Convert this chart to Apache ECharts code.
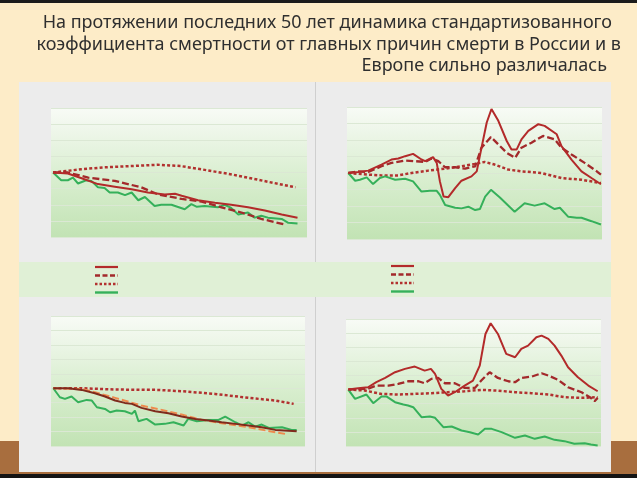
<!DOCTYPE html>
<html><head><meta charset="utf-8">
<script src="https://cdn.jsdelivr.net/npm/echarts@6/dist/echarts.min.js"></script>
<style>html,body{margin:0;padding:0;background:#fdecc8}#c{width:637px;height:478px}</style>
</head><body><div id="c"></div><script>
// ---- data (index, first year = 100) ----
const titleLines = [
  'На протяжении последних 50 лет динамика стандартизованного',
  'коэффициента смертности от главных причин смерти в России и в',
  'Европе сильно различалась'
];

// top-left
const tlSolidYears = [1965,1967.9,1970.6,1973.8,1977.1,1980.4,1983.6,1986.9,1988.9,1990.2,1993.4,1996.7,1999.9,2003.2,2006.5,2009.8,2012.9];
const tlSolidVals  = [100,98.4,91,82,78,74,69,66,67,64,57,53,50,46,41,35,30];
const tlDashYears  = [1965,1967.9,1971.9,1977.1,1982.3,1985.6,1990.2,1994.1,1998,2001.9,2005.8,2010.6];
const tlDashVals   = [100,100,92,87,77,66,59,55,46,38,28,19];
const tlDotYears   = [1965,1970.5,1975,1980.5,1985.5,1990,1994,2000,2005,2012.5];
const tlDotVals    = [100,105,108,110,112,110,105,97,89,77];
const tlGreenYears = [1965,1966.6,1967.9,1968.9,1969.9,1971.5,1972.5,1973.8,1975.1,1976.1,1977.7,1979.1,1980.4,1981.7,1983,1984.9,1986.2,1988.2,1990.8,1992.1,1993.1,1994.7,1997.3,1998.6,1999.9,2001.3,2003.2,2004.5,2005.8,2007.1,2009.8,2011.1,2012.9];
const tlGreenVals  = [100,88,88,92,83,88,87,77,76,69,69,65,69,57,62,48,50,50,43,51,47,48,46,50,45,35,38,30,33,30,28,22,21];

// top-right
const trSolidYears = [1965,1966.9,1968.8,1971.3,1973.2,1974.5,1975.8,1977.3,1978.9,1979.6,1981.1,1981.8,1982.4,1983.1,1984,1985.3,1986.5,1988.4,1989.4,1990.3,1991.3,1992.2,1993.5,1995.1,1996,1997,1997.9,1999.2,2001.1,2002.3,2004.6,2005.5,2007.4,2009.3,2011.2,2013];
const trSolidVals  = [100,101.5,103.6,112.8,120.4,121.9,125.5,129,120.4,117.9,124,115.3,87.3,64.3,63.3,77,88.3,94.9,102.5,138,176.5,197,179,148.5,135.7,135.7,151,163.8,174,171.4,158.7,140.8,120.4,102.5,92.4,83];
const trDashYears  = [1965,1966.9,1968.8,1971.3,1973.2,1975.8,1977.7,1979.6,1980.8,1982.1,1983.4,1985.3,1987.2,1989.1,1990.3,1992.1,1993.5,1995.1,1996.7,1997.9,1999.8,2002,2004.2,2005.5,2007.4,2009.9,2012.2,2013];
const trDashVals   = [100,102.6,101.5,110.2,115.3,118.9,117.9,116.8,121.9,117.9,108.7,108.7,106.6,110.2,138.3,154.6,143.4,130.6,122.9,138.3,145.9,156.1,151,138.3,128.1,115.3,102.6,97.5];
const trDotYears   = [1965,1968.8,1971.3,1974.5,1977,1980.2,1983.4,1986.5,1989.1,1990.9,1992.8,1995.4,1997.9,2001.7,2005.5,2009.3,2013];
const trDotVals    = [100,97.5,96.4,96.4,100,103.6,106.6,110.2,113.8,116.8,112.8,105.1,102.6,100,92.4,89.8,84.7];
const trGreenYears = [1965,1966.3,1967.2,1968.5,1969.7,1971,1972,1973.9,1975.8,1977.3,1978.9,1980.5,1981.8,1982.4,1983.4,1985.3,1986.5,1987.8,1989.1,1990,1991,1992.1,1993.8,1996.6,1998.5,2000.4,2002.3,2004.2,2005.2,2006.8,2008.4,2009.3,2011.2,2013];
const trGreenVals  = [100,88.3,89.8,93.4,83.2,92.4,94.9,89.8,91.3,87.3,71.9,73,73,66.8,51.5,47.4,46.4,48.9,43.8,45.4,64.3,74.5,62.8,41.4,54.1,50.6,54.1,45.4,47.4,33.6,32.1,32.1,27,21.9];

// bottom-left
const blSolidYears = [1965,1968,1970.6,1973.2,1975.2,1977.2,1979.1,1980.5,1982.4,1985.1,1987.7,1990.3,1993,1995.6,1998.2,2000.9,2003.5,2006.1,2008.8,2013];
const blSolidVals  = [100,100,97.1,91.3,85.6,78.7,74.6,72.9,66,60.2,56.7,51,46.9,44,41.1,38.3,35.4,32.5,27.9,25.6];
const blDashYears  = [1965,1970.6,1973.2,1977.2,1982.4,1986.4,1990.3,1994.3,1998.2,2003.5,2008.8,2010.7];
const blDashVals   = [100,98.8,93.1,83.3,70,62.5,54.4,45.2,39.4,32.5,23.8,21];
const blDotYears   = [1965,1970.6,1977.2,1985.7,1990.3,1996.9,2003.5,2008.8,2012.4];
const blDotVals    = [100,100,97.7,97.1,94.8,90.2,83.3,78.7,72.9];
const blGreenYears = [1965,1966.3,1967.3,1968.6,1969.9,1971.6,1972.6,1973.6,1975.2,1976.2,1977.5,1979.1,1980.5,1981.1,1981.8,1983.4,1985.1,1987,1988.7,1990.7,1991.6,1993.3,1995.6,1997.6,1998.9,2000.9,2002.2,2003.5,2004.8,2006.1,2007.5,2010.1,2012,2013];
const blGreenVals  = [100,84.4,81.5,85.6,75.8,79.8,78.7,67.1,64.2,58.4,61.3,60.2,55.6,61.3,42.9,46.9,37.1,38.3,41.1,35.4,46.9,42.9,45.2,45.2,51,41.1,35.4,41.1,33.6,37.1,31.3,32.5,27.9,27.9];

// bottom-right
const brSolidYears = [1965,1966.9,1968.8,1970.4,1972.1,1974,1975.9,1977.8,1979.7,1980.9,1981.7,1982.9,1984.2,1985.5,1987.4,1989,1990.3,1991.4,1992.4,1993.8,1995.4,1997.1,1998.3,1999.6,2001.2,2002.2,2003.5,2004.7,2006,2007.3,2009.2,2011.2,2013];
const brSolidVals  = [100,102.4,104.1,113,120.6,130.7,136.6,140.7,133.6,136.6,127.7,101.2,89.4,95.3,107.1,115.9,142.5,198.5,217.4,198.5,163.2,157.2,172,177.9,192.6,195.6,189.7,177.9,160.2,139.5,121.8,107.1,97];
const brDashYears  = [1965,1966.9,1968.8,1970.4,1972.7,1974.6,1976.5,1978.5,1979.7,1981,1982.3,1983.6,1985.5,1987.4,1989.4,1990.6,1992.2,1993.8,1995.8,1997.1,1998.3,2000.3,2002.2,2003.5,2005.4,2007.3,2009.9,2011.5,2012.4,2013];
const brDashVals   = [100,100.6,101.2,107.1,107.1,110,114.7,114.7,111.2,118.9,120.6,111.2,111.2,103,103,116,130.7,120.6,114.7,113,120.6,123,128.9,124.8,117.1,104.1,95.3,86.4,79.4,85.3];
const brDotYears   = [1965,1968.2,1971.4,1974.6,1977.8,1981,1984.2,1987.4,1990.6,1993.8,1997.1,2000.3,2003.5,2006.7,2009.9,2013];
const brDotVals    = [100,98.2,92.3,91.2,92.3,93.5,95.3,97,99.4,98.2,95.3,93.5,91.2,86.4,85.3,86.4];
const brGreenYears = [1965,1966.3,1968.5,1969.8,1971.4,1972.4,1974,1975.6,1976.5,1977.5,1979.1,1980.7,1981.7,1983.3,1984.9,1986.8,1988.4,1990,1991.3,1992.6,1994.5,1997.1,1999,2000.9,2002.8,2004.7,2006.6,2008.5,2010.5,2011.7,2013];
const brGreenVals  = [100,83.5,91.2,75.8,87.6,87.6,77.6,73.5,71.7,68.7,51,52.2,49.9,33.3,34.5,27.4,24.5,20.4,30.4,30.4,24.5,14.5,18.6,12.7,16.8,10.9,8.6,3.9,5,2.7,1];

// ---- chart ----
const chart = echarts.init(document.getElementById('c'), null, {renderer: 'canvas'});
const plotBg = new echarts.graphic.LinearGradient(0, 0, 0, 1, [
  {offset: 0, color: '#f8fbf6'}, {offset: 0.14, color: '#f0f7ec'},
  {offset: 0.5, color: '#dbefd2'}, {offset: 1, color: '#c2e3b4'}]);

const grids = [
  {left: 51, top: 108, width: 256, height: 129},
  {left: 347, top: 107, width: 255, height: 132},
  {left: 51, top: 316, width: 254, height: 130},
  {left: 346, top: 319, width: 255, height: 127}
].map(g => Object.assign({show: true, borderWidth: 0, backgroundColor: plotBg}, g));

const xRanges = [[1964.6, 2014.76], [1964.75, 2013.2], [1964.55, 2014.64], [1964.56, 2013.64]];
const yMax = [200, 200, 225, 225];

const xAxes = xRanges.map((r, i) => ({type: 'value', gridIndex: i, min: r[0], max: r[1], show: false}));
const yAxes = yMax.map((m, i) => ({
  type: 'value', gridIndex: i, min: 0, max: m, interval: 25,
  axisLine: {show: false}, axisTick: {show: false}, axisLabel: {show: false},
  splitLine: {show: true, lineStyle: {color: '#dbe8d4', width: 1}}
}));

const RED = '#b32a2a', DASH = '#a3292b', DOT = '#b2312f', GREEN = '#35b05a';
const DOTS = [3, 2.2], DASHES = [7, 3];
function zip(a, b) { return a.map((y, i) => [y, b[i]]); }
function mk(name, gi, ys, vs, color, type, width) {
  return {
    name: name, type: 'line', xAxisIndex: gi, yAxisIndex: gi, data: zip(ys, vs),
    symbol: 'none', silent: true, animation: false,
    lineStyle: {color: color, type: type, width: width}, itemStyle: {color: color}
  };
}
const series = [
  mk('tl-dot', 0, tlDotYears, tlDotVals, DOT, DOTS, 2.5),
  mk('tl-green', 0, tlGreenYears, tlGreenVals, GREEN, 'solid', 2),
  mk('tl-dash', 0, tlDashYears, tlDashVals, DASH, DASHES, 2.3),
  mk('tl-solid', 0, tlSolidYears, tlSolidVals, RED, 'solid', 2),
  mk('tr-dot', 1, trDotYears, trDotVals, DOT, DOTS, 2.5),
  mk('tr-green', 1, trGreenYears, trGreenVals, GREEN, 'solid', 2),
  mk('tr-dash', 1, trDashYears, trDashVals, DASH, DASHES, 2.3),
  mk('tr-solid', 1, trSolidYears, trSolidVals, RED, 'solid', 2),
  mk('bl-dot', 2, blDotYears, blDotVals, DOT, DOTS, 2.5),
  mk('bl-green', 2, blGreenYears, blGreenVals, GREEN, 'solid', 2),
  mk('bl-dash', 2, blDashYears, blDashVals, '#ee8a4e', DASHES, 2),
  mk('bl-solid', 2, blSolidYears, blSolidVals, '#7f2a1c', 'solid', 2),
  mk('br-dot', 3, brDotYears, brDotVals, DOT, DOTS, 2.5),
  mk('br-green', 3, brGreenYears, brGreenVals, GREEN, 'solid', 2),
  mk('br-dash', 3, brDashYears, brDashVals, DASH, DASHES, 2.3),
  mk('br-solid', 3, brSolidYears, brSolidVals, RED, 'solid', 2)
];

// legend keys (no text in the original legend strip)
const legendKeys = [
  {color: RED, dash: null, width: 2.2},
  {color: DASH, dash: [5, 2.5], width: 2.3},
  {color: DOT, dash: [2.5, 2], width: 2.3},
  {color: GREEN, dash: null, width: 2.4}
];
const legendGraphics = [];
[[95, 267], [391, 266]].forEach(([x0, y0]) => {
  legendKeys.forEach((k, i) => {
    const y = y0 + i * 8.5;
    legendGraphics.push({type: 'line', z: 5, shape: {x1: x0, y1: y, x2: x0 + 23, y2: y},
      style: {stroke: k.color, lineWidth: k.width, lineDash: k.dash}});
  });
});

// title: three right-aligned lines with slightly different right edges
const titleRight = [612, 621, 607];
const titleGraphics = titleLines.map((t, i) => ({
  type: 'text', z: 5, style: {
    text: t, x: titleRight[i], y: 23 + i * 21.5, align: 'right', verticalAlign: 'middle',
    font: '18px "Noto Sans", "Open Sans", sans-serif', fill: '#2f2f2f'
  }
}));

const option = {
  backgroundColor: '#fdecc8',
  animation: false,
  graphic: [
    {type: 'rect', z: -10, shape: {x: 0, y: 0, width: 637, height: 3}, style: {fill: '#1b1b1b'}},
    {type: 'rect', z: -10, shape: {x: 0, y: 441, width: 637, height: 33}, style: {fill: '#a86e3e'}},
    {type: 'rect', z: -10, shape: {x: 0, y: 474, width: 637, height: 4}, style: {fill: '#141414'}},
    {type: 'rect', z: -9, shape: {x: 19, y: 82, width: 296, height: 390}, style: {fill: '#ececec'}},
    {type: 'rect', z: -9, shape: {x: 316, y: 82, width: 295, height: 390}, style: {fill: '#ececec'}},
    {type: 'line', z: -8, shape: {x1: 315.5, y1: 82, x2: 315.5, y2: 472}, style: {stroke: '#cfcfcf', lineWidth: 1}},
    {type: 'rect', z: -8, shape: {x: 19, y: 262, width: 592, height: 35}, style: {fill: '#e0f0d6'}}
  ].concat(titleGraphics, legendGraphics),
  grid: grids,
  xAxis: xAxes,
  yAxis: yAxes,
  series: series
};
chart.setOption(option);
</script></body></html>
